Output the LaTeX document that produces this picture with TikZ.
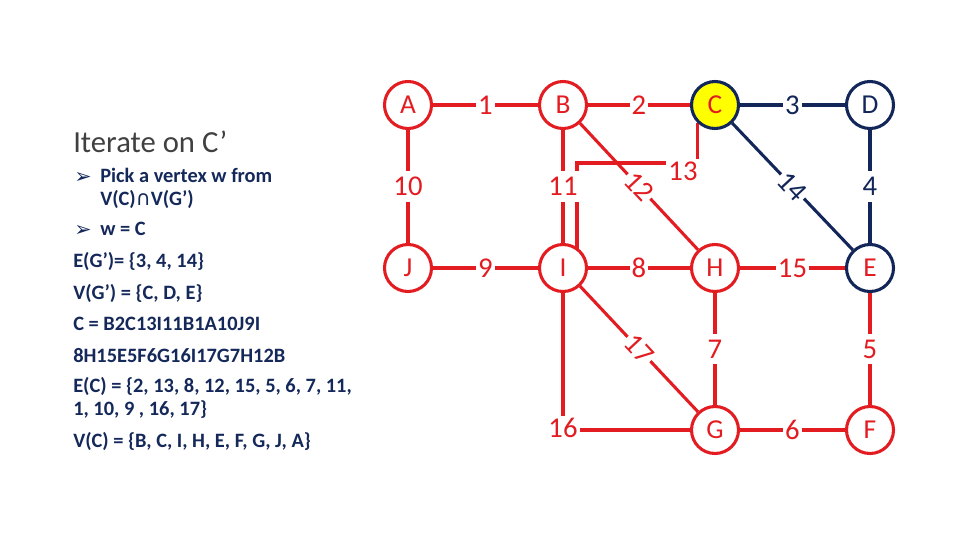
\documentclass[tikz,border=0pt]{standalone}
\usepackage{fontspec}
\setmainfont{Carlito}
\newfontfamily\sym{DejaVu Sans}
\usetikzlibrary{backgrounds}
\definecolor{gred}{RGB}{226,28,33}
\definecolor{gnavy}{RGB}{18,38,89}
\definecolor{tnavy}{RGB}{20,40,90}
\definecolor{tgray}{RGB}{64,64,64}
\definecolor{cyel}{RGB}{255,255,0}
\begin{document}
\begin{tikzpicture}[x=0.75pt,y=-0.75pt,
  vtx/.style={circle,draw=gred,line width=2.3pt,fill=white,minimum size=35.25pt,inner sep=0pt,text=gred,font=\fontsize{20.5}{20.5}\selectfont},
  nvtx/.style={vtx,draw=gnavy,text=gnavy},
  rl/.style={draw=gred,line width=2.3pt},
  nl/.style={draw=gnavy,line width=2.3pt},
  wl/.style={fill=white,inner xsep=1.5pt,inner ysep=4.5pt,font=\fontsize{21.5}{21.5}\selectfont,text=gred},
  nwl/.style={wl,text=gnavy},
  dl/.style={wl,rotate=-47,inner ysep=3pt},
  ttl/.style={anchor=base west,text=tgray,font=\fontsize{23}{23}\selectfont,inner sep=0pt},
  body/.style={anchor=base west,text=tnavy,font=\fontsize{15.3}{15.3}\selectfont\bfseries,inner sep=0pt},
  bul/.style={anchor=base west,text=tnavy,font=\fontsize{15.5}{15.5}\selectfont\sym,inner sep=0pt},
]
\useasboundingbox (0,0) rectangle (960,540);

% left text
\node[ttl] (t0) at (73,152) {Iterate on C’};
\node[bul] (b1) at (74,183) {➢};
\node[body] (t1) at (100,182) {Pick a vertex w from};
\node[body] (t2) at (100,205) {V(C){\sym\mdseries ∩}V(G’)};
\node[bul] (b2) at (74,236) {➢};
\node[body] (t3) at (100,235) {w = C};
\node[body] (t4) at (73,267) {E(G’)= \{3, 4, 14\}};
\node[body] (t5) at (73,299) {V(G’) = \{C, D, E\}};
\node[body] (t6) at (73,330) {C = B2C13I11B1A10J9I};
\node[body] (t7) at (73,362) {8H15E5F6G16I17G7H12B};
\node[body] (t8) at (73,392) {E(C) = \{2, 13, 8, 12, 15, 5, 6, 7, 11,};
\node[body] (t9) at (73,415) {1, 10, 9 , 16, 17\}};
\node[body] (t10) at (73,447) {V(C) = \{B, C, I, H, E, F, G, J, A\}};

% vertices
\node[vtx] (A) at (408,105) {A};
\node[vtx] (B) at (563,105) {B};
\node[nvtx,fill=cyel,text=gred] (C) at (715,105) {C};
\node[nvtx] (D) at (870,105) {D};
\node[vtx] (J) at (408,268) {J};
\node[vtx] (I) at (563,268) {I};
\node[vtx] (H) at (715,268) {H};
\node[nvtx,text=gred] (E) at (870,268) {E};
\node[vtx] (G) at (715,430) {G};
\node[vtx] (F) at (870,430) {F};

\coordinate (k13) at (577,163);

\begin{scope}[on background layer]
\draw[rl] (C.-135) |- (k13) -- (k13 |- I);
\node[wl,inner ysep=2pt] (l13) at (683,171) {13};
\draw[rl] (A) -- node[wl] (l1) {1} (B);
\draw[rl] (B) -- node[wl] (l2) {2} (C);
\draw[nl] (C) -- node[nwl] (l3) {3} (D);
\draw[rl] (A) -- node[wl] (l10) {10} (J);
\draw[rl] (B) -- node[wl] (l11) {11} (I);
\draw[nl] (D) -- node[nwl] (l4) {4} (E);
\draw[rl] (B) -- node[dl] (l12) {12} (H);
\draw[nl] (C) -- node[dl,text=gnavy] (l14) {14} (E);
\draw[rl] (J) -- node[wl] (l9) {9} (I);
\draw[rl] (I) -- node[wl] (l8) {8} (H);
\draw[rl] (H) -- node[wl] (l15) {15} (E);
\draw[rl] (H) -- node[wl] (l7) {7} (G);
\draw[rl] (E) -- node[wl] (l5) {5} (F);
\draw[rl] (G) -- node[wl] (l6) {6} (F);
\draw[rl] (I) -- node[dl] (l17) {17} (G);
\draw[rl] (I) |- (G);
\node[wl,inner ysep=2pt] (l16) at (563,428) {16};
\end{scope}
\end{tikzpicture}
\end{document}
